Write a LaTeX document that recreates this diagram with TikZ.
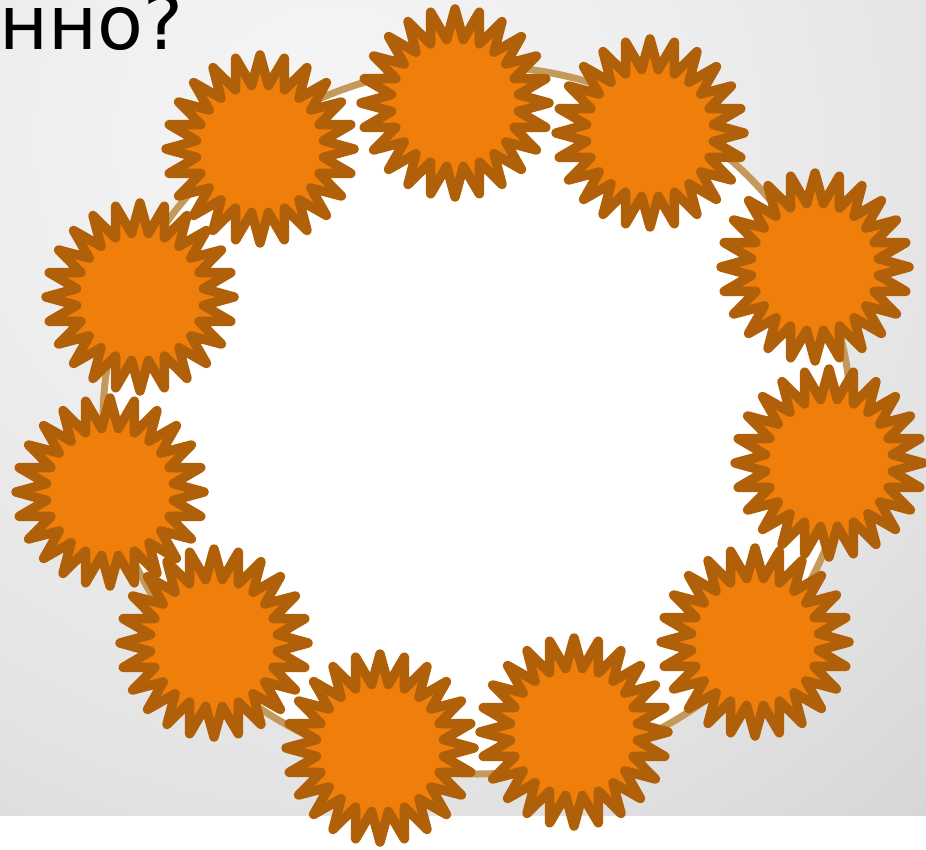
\documentclass[tikz,border=0pt]{standalone}
\usepackage{fontspec}
\newfontfamily\dejavu{DejaVu Sans}
\definecolor{bgA}{RGB}{246,246,246}
\definecolor{bgB}{RGB}{237,237,237}
\definecolor{bgC}{RGB}{227,227,227}
\definecolor{bgD}{RGB}{214,214,214}
\definecolor{bgE}{RGB}{190,190,190}
\definecolor{bgF}{RGB}{175,175,175}
\definecolor{starfill}{RGB}{239,127,10}
\definecolor{starline}{RGB}{176,96,8}
\definecolor{ringcol}{RGB}{196,154,92}
\pgfdeclareradialshading{bgshade}{\pgfpoint{0bp}{0bp}}{color(0bp)=(bgA); color(9bp)=(bgB); color(16.5bp)=(bgC); color(22.5bp)=(bgD); color(26.4bp)=(bgE); color(30bp)=(bgF); color(50bp)=(bgF)}
\tikzset{
  starstyle/.style={draw=starline, fill=starfill, line width=9.5pt, line join=round},
  ringstyle/.style={draw=ringcol, fill=white, line width=7pt},
}
\newcommand\mystar[1]{%
  \draw[starstyle, shift={(#1)}] (90:94) \foreach \i in {1,...,47} { -- ({90+\i*7.5}:{79+15*cos(\i*180)}) } -- cycle;}
\begin{document}
\begin{tikzpicture}[x=1pt,y=-1pt]
\useasboundingbox (0,0) rectangle (926,850);
\begin{scope}
\clip (0,0) rectangle (926,815);
\shade[shading=bgshade] (330,140) circle [radius=1000];
\end{scope}
\begin{scope}
\clip (0,0) rectangle (926,850);
\draw[ringstyle] (477,420) ellipse [x radius=374, y radius=354];
\coordinate (s1) at (455,103);
\coordinate (s2) at (650,133);
\coordinate (s3) at (815,267);
\coordinate (s4) at (829,463);
\coordinate (s5) at (755,642);
\coordinate (s6) at (574,732);
\coordinate (s7) at (380,748);
\coordinate (s8) at (214,643);
\coordinate (s9) at (110,492);
\coordinate (s10) at (140,297);
\coordinate (s11) at (260,149);
\foreach \s in {s1,s2,s3,s4,s5,s6,s7,s8,s9,s10,s11} {\mystar{\s}}
\node[anchor=base west, inner sep=0pt, font=\dejavu\fontsize{75}{75}\selectfont] (title) at (-1,50) {нно?};
\end{scope}
\end{tikzpicture}
\end{document}
